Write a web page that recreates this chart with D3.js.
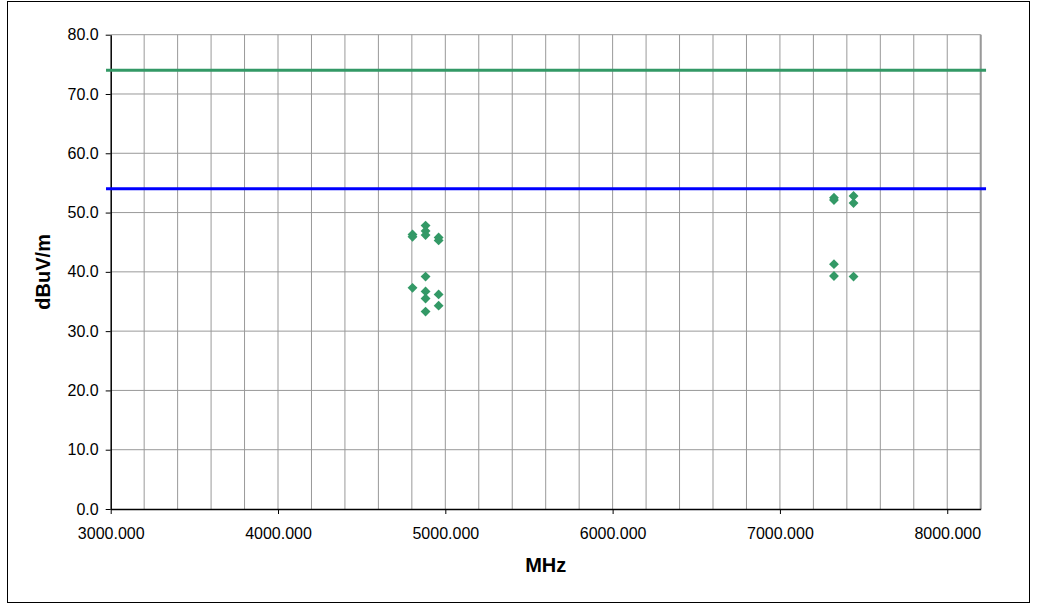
<!DOCTYPE html>
<html>
<head>
<meta charset="utf-8">
<script src="https://cdn.jsdelivr.net/npm/d3@7"></script>
<style>
  html, body { margin: 0; padding: 0; background: #fff; }
  svg { display: block; font-family: "Liberation Sans", Arial, sans-serif; }
</style>
</head>
<body>
<svg id="chart" width="1037" height="604"></svg>
<script>
// Measured emission levels (harmonics of the 2.4 GHz channels)
const freqMHz = [4804, 4804, 4804, 4882, 4882, 4882, 4882, 4882, 4882, 4882,
                 4960, 4960, 4960, 4960, 7323, 7323, 7323, 7323, 7440, 7440, 7440];
const levelDbuV = [46.3, 45.9, 37.3, 47.8, 46.9, 46.2, 39.2, 36.7, 35.5, 33.3,
                   45.8, 45.3, 36.2, 34.3, 52.5, 52.1, 41.3, 39.3, 52.8, 51.6, 39.2];

// Limit lines (peak and average)
const limitFreq = [2972, 8232];
const peakLimit = [74, 74];
const avgLimit = [54, 54];

// Axis ticks
const xTicks = [3000, 4000, 5000, 6000, 7000, 8000];
const xGrid = d3.range(3000, 8201, 200);
const yTicks = [0, 10, 20, 30, 40, 50, 60, 70, 80];

const svg = d3.select("#chart");
const plotLeft = 110.7, plotRight = 980.7, plotTop = 34.7, plotBottom = 509;
const fontFamily = "'Liberation Sans', Arial, sans-serif";

const x = d3.scaleLinear().domain([3000, 8200]).range([plotLeft, plotRight]);
const y = d3.scaleLinear().domain([0, 80]).range([plotBottom, plotTop]);

// Outer frame
svg.append("rect").attr("x", 7.5).attr("y", 1.5).attr("width", 1022).attr("height", 601)
  .attr("fill", "none").attr("stroke", "#000").attr("stroke-width", 1);

// Grid
const grid = svg.append("g");
grid.selectAll("line.v").data(xGrid.slice(1)).join("line")
  .attr("x1", d => x(d)).attr("x2", d => x(d))
  .attr("y1", plotTop).attr("y2", plotBottom)
  .attr("stroke", "#999").attr("stroke-width", 1);
grid.selectAll("line.h").data(yTicks.slice(1)).join("line")
  .attr("x1", plotLeft).attr("x2", plotRight)
  .attr("y1", d => y(d)).attr("y2", d => y(d))
  .attr("stroke", "#999").attr("stroke-width", 1);

// Right plot border
svg.append("line").attr("x1", plotRight).attr("x2", plotRight).attr("y1", plotTop).attr("y2", plotBottom)
  .attr("stroke", "#999").attr("stroke-width", 2);

// Axes
const xAxis = d3.axisBottom(x).tickValues(xTicks).tickFormat(d3.format(".3f"))
  .tickSizeInner(5).tickSizeOuter(0).tickPadding(14);
const gx = svg.append("g").attr("transform", `translate(0,${plotBottom})`).call(xAxis);
gx.select(".domain").attr("stroke", "#000").attr("stroke-width", 1.5);
gx.selectAll(".tick line").attr("stroke", "#000");
gx.selectAll("text").attr("font-size", 16).attr("fill", "#000").style("font-family", fontFamily);

const yAxis = d3.axisLeft(y).tickValues(yTicks).tickFormat(d3.format(".1f"))
  .tickSizeInner(5).tickSizeOuter(0).tickPadding(7);
const gy = svg.append("g").attr("transform", `translate(${plotLeft},0)`).call(yAxis);
gy.select(".domain").attr("stroke", "#000").attr("stroke-width", 1.5);
gy.selectAll(".tick line").attr("stroke", "#000");
gy.selectAll("text").attr("font-size", 16).attr("fill", "#000").style("font-family", fontFamily);

// Limit lines
const line = d3.line().x(d => x(d[0])).y(d => y(d[1]));
svg.append("path").datum(d3.zip(limitFreq, peakLimit)).attr("d", line)
  .attr("fill", "none").attr("stroke", "#339966").attr("stroke-width", 3);
svg.append("path").datum(d3.zip(limitFreq, avgLimit)).attr("d", line)
  .attr("fill", "none").attr("stroke", "#0000ff").attr("stroke-width", 3);

// Measurement points (diamonds)
const diamond = d3.symbol().type(d3.symbolDiamond2).size(62);
svg.append("g").selectAll("path").data(d3.zip(freqMHz, levelDbuV)).join("path")
  .attr("d", diamond)
  .attr("transform", d => `translate(${x(d[0])},${y(d[1])})`)
  .attr("fill", "#339966");

// Axis titles
svg.append("text").attr("x", (plotLeft + plotRight) / 2).attr("y", 572)
  .attr("text-anchor", "middle").attr("font-size", 20).attr("font-weight", "bold")
  .style("font-family", fontFamily)
  .text("MHz");
svg.append("text")
  .attr("transform", `translate(50,${(plotTop + plotBottom) / 2}) rotate(-90)`)
  .attr("text-anchor", "middle").attr("font-size", 20).attr("font-weight", "bold")
  .style("font-family", fontFamily)
  .text("dBuV/m");
</script>
</body>
</html>
